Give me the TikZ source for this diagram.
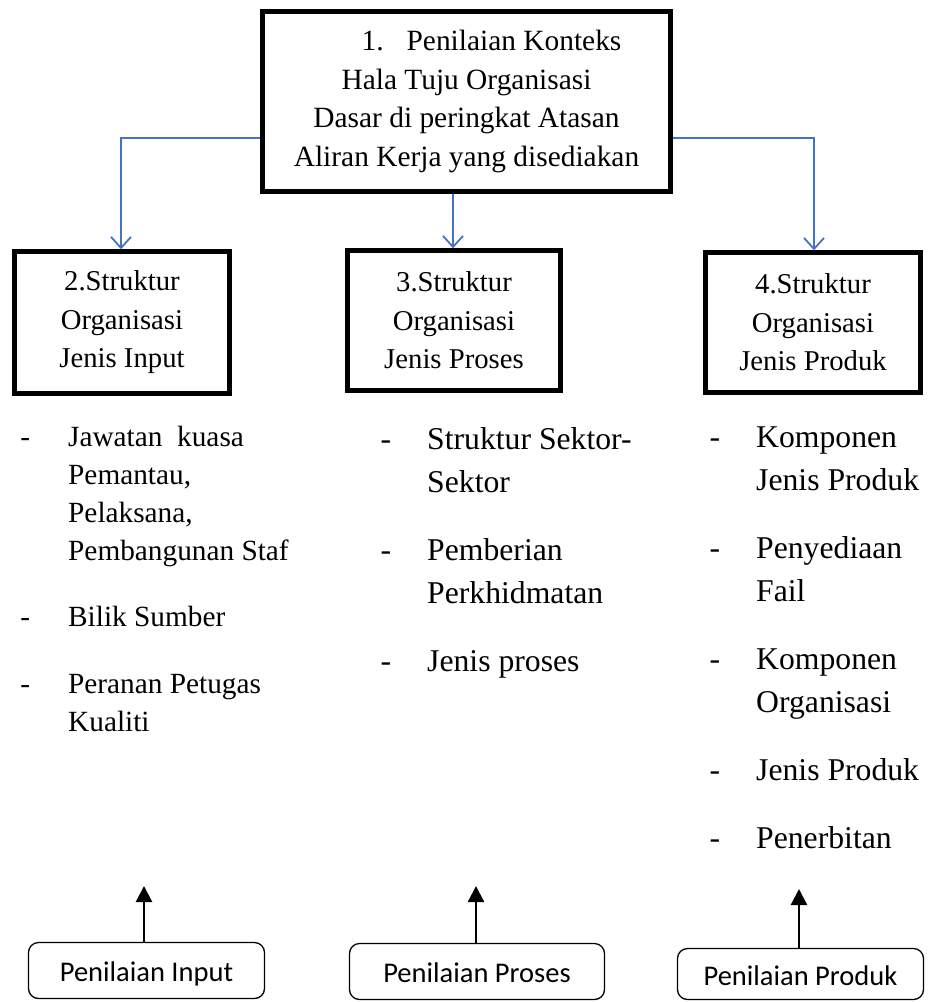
\documentclass[tikz,border=0pt]{standalone}
\usepackage{fontspec}
\setmainfont{Liberation Serif}
\newfontfamily\calib{Carlito}
\usetikzlibrary{arrows.meta}
\definecolor{flowblue}{HTML}{4472C4}
\begin{document}
\begin{tikzpicture}[x=1pt,y=-1pt,
  mainbox/.style={draw=black,line width=4.5pt,fill=white,inner sep=0pt,align=center},
  subbox/.style={draw=black,line width=1.3pt,rounded corners=10pt,inner sep=0pt,
    text height=22pt,text depth=0pt,font=\calib\fontsize{28.5}{32}\selectfont},
  flow/.style={draw=flowblue,line width=1.8pt,-{Straight Barb[length=11pt,width=20pt,line width=1.8pt]}},
  feed/.style={draw=black,line width=2.4pt,-{Triangle[length=16pt,width=16pt]}},
  itemcol/.style={anchor=north west,inner sep=0pt,align=left}]
\useasboundingbox (0,0) rectangle (927,1002);
\fill[white] (0,0) rectangle (927,1002);

% context box at the top
\node[mainbox,minimum width=408pt,minimum height=180pt,
  font=\fontsize{29.4}{38.5}\selectfont] (ctx) at (466.5,101.5)
  {\hspace*{50pt}1.\hspace{23pt}Penilaian Konteks\\
   Hala Tuju Organisasi\\
   Dasar di peringkat Atasan\\
   Aliran Kerja yang disediakan};

% structure boxes
\node[mainbox,minimum width=215pt,minimum height=142pt,
  font=\fontsize{28.7}{38.5}\selectfont] (inp) at (122,322.5)
  {2.Struktur\\Organisasi\\Jenis Input};
\node[mainbox,minimum width=213pt,minimum height=140pt,
  font=\fontsize{28.7}{38.5}\selectfont] (pro) at (454,320.5)
  {3.Struktur\\Organisasi\\Jenis Proses};
\node[mainbox,minimum width=215pt,minimum height=140pt,
  font=\fontsize{28.7}{38.5}\selectfont] (prd) at (813,322.5)
  {4.Struktur\\Organisasi\\Jenis Produk};

% connectors from the context box
\coordinate (tl) at (121,138);
\coordinate (tr) at (814,138);
\coordinate (tm) at (453,138);
\draw[flow] (ctx.west |- tl) -- (tl) -- (tl |- inp.north);
\draw[flow] (ctx.east |- tr) -- (tr) -- (tr |- prd.north);
\draw[flow] (ctx.south -| tm) -- (pro.north -| tm);

% item lists
\node[itemcol,font=\fontsize{29.3}{38}\selectfont] (l1) at (68,426)
  {\rule{0pt}{20pt}\llap{-\hspace{38pt}}Jawatan~ kuasa\\
   Pemantau,\\
   Pelaksana,\\
   Pembangunan Staf\\[28pt]
   \llap{-\hspace{38pt}}Bilik Sumber\\[29pt]
   \llap{-\hspace{38pt}}Peranan Petugas\\
   Kualiti};
\node[itemcol,font=\fontsize{31.7}{43}\selectfont] (l2) at (427,427)
  {\rule{0pt}{20pt}\llap{-\hspace{36pt}}Struktur Sektor-\\
   Sektor\\[25pt]
   \llap{-\hspace{36pt}}Pemberian\\
   Perkhidmatan\\[25pt]
   \llap{-\hspace{36pt}}Jenis proses};
\node[itemcol,font=\fontsize{31.7}{43}\selectfont] (l3) at (756,427)
  {\rule{0pt}{20pt}\llap{-\hspace{36pt}}Komponen\\
   Jenis Produk\\[25pt]
   \llap{-\hspace{36pt}}Penyediaan\\
   Fail\\[25pt]
   \llap{-\hspace{36pt}}Komponen\\
   Organisasi\\[25pt]
   \llap{-\hspace{36pt}}Jenis Produk\\[25pt]
   \llap{-\hspace{36pt}}Penerbitan};

% assessment boxes
\node[subbox,minimum width=236pt,minimum height=56pt] (ai) at (146.5,970.5) {Penilaian Input};
\node[subbox,minimum width=255pt,minimum height=56pt] (ap) at (477,971.5) {Penilaian Proses};
\node[subbox,minimum width=246pt,minimum height=51pt] (ad) at (800.5,974) {Penilaian Produk};

\coordinate (ti) at (144,886);
\coordinate (tp) at (476,886);
\coordinate (td) at (799,889);
\draw[feed] (ai.north -| ti) -- (ti);
\draw[feed] (ap.north -| tp) -- (tp);
\draw[feed] (ad.north -| td) -- (td);
\end{tikzpicture}
\end{document}
